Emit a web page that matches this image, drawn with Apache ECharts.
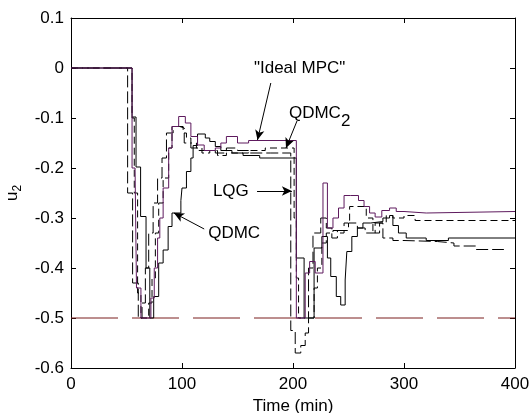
<!DOCTYPE html>
<html><head><meta charset="utf-8">
<script src="https://cdn.jsdelivr.net/npm/echarts/dist/echarts.min.js"></script>
<style>html,body{margin:0;padding:0;background:#fff}#c{width:532px;height:413px}</style>
</head><body><div id="c"></div>
<script>
// axis ticks
const xTicks = [0, 100, 200, 300, 400];
const yTicks = [-0.6, -0.5, -0.4, -0.3, -0.2, -0.1, 0, 0.1];

// "Ideal MPC" (purple, solid)
const idealT = [0,55,57.7,59,63,72,75,78,80,83,88,91,97,103,108,114,120,130,135,140,150,160,203,211,215,220,227,231,236,241,246,252,259,264,269,274,280,287,293,300,320,400];
const idealV = [0,-0.2,-0.2,-0.44,-0.5,-0.46,-0.40,-0.34,-0.30,-0.24,-0.16,-0.117,-0.097,-0.11,-0.137,-0.154,-0.165,-0.16,-0.15,-0.137,-0.15,-0.145,-0.5,-0.41,-0.387,-0.41,-0.23,-0.32,-0.30,-0.28,-0.255,-0.255,-0.265,-0.277,-0.29,-0.298,-0.285,-0.28,-0.287,-0.29,-0.287,-0.287];

// QDMC2 (black, short dash)
const qdmc2T = [0,55,57,60,63,70,73,76,79,83,88,91,101,104,108,113,118,125,132,140,150,160,175,201,203,205,208,215,219,222,226,230,236,241,246,251,266,272,278,284,290,300,310,400];
const qdmc2V = [0,-0.1,-0.25,-0.45,-0.5,-0.47,-0.42,-0.33,-0.27,-0.22,-0.16,-0.117,-0.13,-0.14,-0.15,-0.16,-0.17,-0.165,-0.175,-0.17,-0.17,-0.165,-0.16,-0.30,-0.42,-0.5,-0.5,-0.5,-0.44,-0.40,-0.35,-0.33,-0.325,-0.33,-0.31,-0.277,-0.30,-0.33,-0.31,-0.295,-0.30,-0.295,-0.305,-0.305];

// LQG (black, long dash)
const lqgT = [0,51,55.5,60.6,64,67,70,74,78,82,86,92,98,102,108,114,120,130,140,150,160,180,198,202,207,211,214,218,225,230,235,240,250,258,265,274,281,290,300,330,345,365,390];
const lqgV = [0,-0.25,-0.43,-0.5,-0.47,-0.40,-0.33,-0.27,-0.22,-0.18,-0.13,-0.117,-0.12,-0.15,-0.16,-0.165,-0.165,-0.17,-0.16,-0.165,-0.17,-0.17,-0.525,-0.57,-0.555,-0.53,-0.40,-0.33,-0.30,-0.32,-0.34,-0.325,-0.31,-0.32,-0.33,-0.31,-0.34,-0.345,-0.347,-0.35,-0.356,-0.363,-0.363];

// QDMC (black, solid)
const qdmcT = [0,55,58.6,62.7,67.6,71,74.5,79,83,87.5,91,99,100,104,108,110,114,121,125,130,135,145,155,170,203,210,219,226,231,234,239,243,247,248.5,253,258,263,270,281,287,290,295,302,320,340,400];
const qdmcV = [0,-0.098,-0.198,-0.297,-0.40,-0.5,-0.457,-0.39,-0.364,-0.317,-0.29,-0.265,-0.24,-0.207,-0.18,-0.155,-0.132,-0.14,-0.147,-0.157,-0.165,-0.17,-0.175,-0.18,-0.38,-0.5,-0.36,-0.337,-0.38,-0.417,-0.457,-0.474,-0.424,-0.367,-0.337,-0.32,-0.31,-0.307,-0.30,-0.295,-0.315,-0.33,-0.34,-0.345,-0.34,-0.34];

// constraint
const limitT = [0, 400];
const limitV = [-0.5, -0.5];

// annotations: [label, textT, textV, arrowFromT, arrowFromV, arrowToT, arrowToV]
const notes = [
  ['"Ideal MPC"', 206, 0.0, 180, -0.03, 168, -0.144],
  ['QDMC{s|2}', 224, -0.09, 203.6, -0.106, 193.7, -0.16],
  ['LQG', 144, -0.246, 167.6, -0.246, 199, -0.246],
  ['QDMC', 147, -0.33, 120, -0.322, 92.8, -0.29]
];

const pairs = (t, v) => t.map((x, i) => [x, v[i]]);
const font = 'Liberation Sans, Arial, sans-serif';
const FS = 17;

const chart = echarts.init(document.getElementById('c'), null, {renderer: 'canvas'});
const baseX = {
  type: 'value', min: 0, max: 400, interval: 100,
  axisLine: {show: true, onZero: false, lineStyle: {color: '#000', width: 1}},
  axisTick: {show: true, inside: true, length: 5, lineStyle: {color: '#000'}},
  splitLine: {show: false}
};
const baseY = {
  type: 'value', min: -0.6, max: 0.1, interval: 0.1,
  axisLine: {show: true, onZero: false, lineStyle: {color: '#000', width: 1}},
  axisTick: {show: true, inside: true, length: 5, lineStyle: {color: '#000'}},
  splitLine: {show: false}
};
const lineS = (name, t, v, color, type) => ({
  name, type: 'line', step: 'end', data: pairs(t, v), showSymbol: false, symbol: 'none',
  lineStyle: {color, width: 1, type}, animation: false, z: 3
});

chart.setOption({
  animation: false,
  grid: {left: 71, right: 17, top: 18, bottom: 45, containLabel: false, outerBoundsMode: 'none'},
  xAxis: [
    Object.assign({}, baseX, {
      position: 'bottom', name: 'Time (min)', nameLocation: 'middle', nameGap: 28,
      nameTextStyle: {fontFamily: font, fontSize: FS, color: '#000'},
      axisLabel: {fontFamily: font, fontSize: FS, color: '#000', margin: 8,
        formatter: v => xTicks.includes(v) ? String(v) : ''}
    }),
    Object.assign({}, baseX, {position: 'top', axisLabel: {show: false}})
  ],
  yAxis: [
    Object.assign({}, baseY, {
      position: 'left', name: 'u{s|2}', nameLocation: 'middle', nameGap: 36, nameRotate: 90,
      nameTextStyle: {fontFamily: font, fontSize: FS, color: '#000',
        rich: {s: {fontFamily: font, fontSize: 12, color: '#000', verticalAlign: 'bottom', padding: [10,0,0,0]}}},
      axisLabel: {fontFamily: font, fontSize: FS, color: '#000', margin: 7,
        formatter: v => {
          const r = Math.round(v * 10) / 10;
          return yTicks.some(y => Math.abs(y - r) < 1e-9) ? (r === 0 ? '0' : r.toFixed(1)) : '';
        }}
    }),
    Object.assign({}, baseY, {position: 'right', axisLabel: {show: false}})
  ],
  series: [
    {name: 'limit', type: 'line', data: pairs(limitT, limitV), showSymbol: false, symbol: 'none',
      lineStyle: {color: '#7a1f1f', width: 1, type: [47, 14]}, z: 2},
    lineS('LQG', lqgT, lqgV, '#000', [12, 4]),
    lineS('QDMC2', qdmc2T, qdmc2V, '#000', [7, 4]),
    lineS('QDMC', qdmcT, qdmcV, '#000', 'solid'),
    lineS('Ideal MPC', idealT, idealV, '#5e1a5e', 'solid'),
    {
      name: 'notes', type: 'scatter', data: [], silent: true, z: 5,
      markPoint: {
        symbol: 'circle', symbolSize: 0, silent: true, animation: false,
        label: {show: true, position: 'inside', fontFamily: font, fontSize: FS, color: '#000',
          rich: {s: {fontFamily: font, fontSize: FS, color: '#000', padding: [16, 0, 0, 0]}}},
        data: notes.map(n => ({coord: [n[1], n[2]], value: n[0],
          label: {formatter: n[0]}}))
      },
      markLine: {
        silent: true, animation: false, symbol: ['none', 'arrow'], symbolSize: [7, 10],
        lineStyle: {color: '#000', width: 1, type: 'solid'}, label: {show: false},
        data: notes.map(n => [{coord: [n[3], n[4]]}, {coord: [n[5], n[6]]}])
      }
    }
  ]
});
</script></body></html>
